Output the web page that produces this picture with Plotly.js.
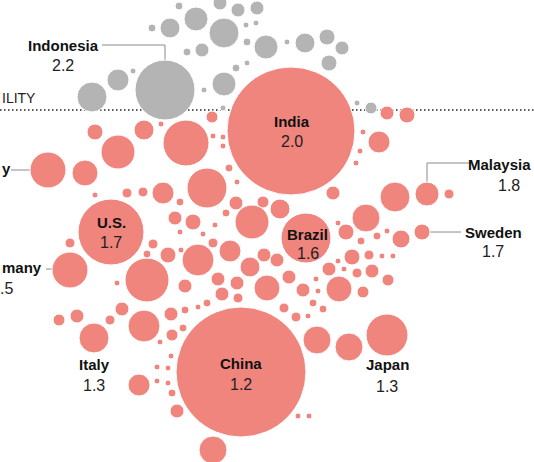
<!DOCTYPE html>
<html>
<head>
<meta charset="utf-8">
<script src="https://cdn.plot.ly/plotly-3.0.1.min.js"></script>
<style>
html,body{margin:0;padding:0;background:#fff;}
#chart{width:534px;height:462px;}
</style>
</head>
<body>
<div id="chart"></div>
<script>
// Countries above replacement fertility (grey bubbles)
const aboveX = [179,220,196,170,152,238,257,224,246,256,187,202,247,266,287,305,327,342,329,236,247,224,204,223,133,118,92,165,357,371];
const aboveY = [6,3,19,28,28,10,8,33,25,23,52,50,42,47,42,43,37,48,63,68,63,84,90,108,71,80,97,90,103,108];
const aboveR = [4,7,12,10,4,7,7,15,3,3,4,7,4,12,3,10,8,7,8,4,3,12,3,3,3,11,15,30,3,6];

// Countries below replacement fertility (pink bubbles)
const belowX = [95,118,144,161,186,212,213,223,223,291,387,407,363,379,360,356,333,395,427,449,366,338,
  48,85,95,127,143,163,180,207,229,237,236,263,280,175,193,226,215,252,180,203,213,111,70,153,168,181,198,230,
  264,277,250,306,346,361,377,387,401,422,352,369,382,393,338,329,344,357,372,388,289,316,303,318,339,363,313,323,
  284,296,308,317,349,387,298,309,267,218,237,185,222,238,207,198,185,171,147,117,70,122,110,77,59,94,144,183,172,
  160,171,157,168,157,168,172,177,139,213,241,147];
const belowY = [132,152,130,124,143,117,136,137,146,131,113,115,132,142,151,163,193,197,194,194,218,223,
  170,173,195,193,192,193,202,188,168,182,203,202,209,218,222,213,225,222,232,234,243,232,243,244,255,250,260,251,
  255,260,267,238,232,241,236,231,239,232,257,255,256,256,261,269,269,273,271,280,277,279,290,291,289,292,303,309,
  308,317,316,340,347,335,416,416,288,279,283,286,294,298,303,307,310,314,280,283,270,309,320,316,320,338,326,328,335,
  342,356,367,368,381,383,393,411,385,450,372,254];
const belowR = [8,17,10,3,23,6,3,3,3,64,7,8,3,11,3,3,7,15,12,5,14,3,
  18,13,3,5,5,11,4,20,4,3,7,6,10,7,8,4,3,17,3,3,5,33,5,5,8,3,16,11,
  7,7,10,25,8,4,4,3,9,8,8,5,3,3,3,7,3,5,7,6,7,3,7,3,13,6,4,4,
  5,5,3,14,14,21,3,3,13,7,7,7,7,5,4,3,4,7,22,3,18,7,5,7,6,15,16,4,6,
  3,3,3,3,3,3,4,7,11,14,65,4];

// Labelled countries and their fertility rates
const labelNames = ["Indonesia","India","Malaysia","Sweden","U.S.","Brazil","many","Italy","China","Japan"];
const labelRates = ["2.2","2.0","1.8","1.7","1.7","1.6",".5","1.3","1.2","1.3"];
const thresholdText = "ILITY";

const pink = "#ef857d";
const grey = "#b4b4b4";

const traces = [
  {type:"scatter", mode:"markers", x:aboveX, y:aboveY, hoverinfo:"skip",
   marker:{size:aboveR.map(r=>2*r), color:grey, opacity:1, line:{color:"#fff", width:1}}},
  {type:"scatter", mode:"markers", x:belowX, y:belowY, hoverinfo:"skip",
   marker:{size:belowR.map(r=>2*r), color:pink, opacity:1, line:{color:"#fff", width:1}}}
];

// label placement (name position, value position, anchor)
const place = [
  {nx:63, ny:45, vx:63, vy:65, a:"center", va:"center"},
  {nx:292, ny:121, vx:292, vy:141, a:"center", va:"center"},
  {nx:533, ny:164, vx:509, vy:185, a:"right", va:"center"},
  {nx:493, ny:232, vx:493, vy:251, a:"center", va:"center"},
  {nx:111, ny:222, vx:111, vy:242, a:"center", va:"center"},
  {nx:307, ny:234, vx:308, vy:253, a:"center", va:"center"},
  {nx:44, ny:267, vx:15, vy:288, a:"right", va:"right"},
  {nx:94, ny:364, vx:94, vy:385, a:"center", va:"center"},
  {nx:241, ny:363, vx:241, vy:384, a:"center", va:"center"},
  {nx:387, ny:364, vx:387, vy:386, a:"center", va:"center"}
];

const annotations = [];
labelNames.forEach((n,i)=>{
  const p = place[i];
  annotations.push({x:p.nx, y:p.ny, xref:"x", yref:"y", text:n, showarrow:false,
    xanchor:p.a, yanchor:"middle",
    font:{family:"Liberation Sans, Arial, sans-serif", size:15, weight:"bold", color:"#111"}});
  annotations.push({x:p.vx, y:p.vy, xref:"x", yref:"y", text:labelRates[i], showarrow:false,
    xanchor:p.va, yanchor:"middle",
    font:{family:"Liberation Sans, Arial, sans-serif", size:16, color:"#222"}});
});
annotations.push({x:0, y:98, xref:"x", yref:"y", text:thresholdText, showarrow:false,
  xanchor:"left", yanchor:"middle",
  font:{family:"Liberation Sans, Arial, sans-serif", size:14, color:"#222"}});
annotations.push({x:0, y:168, xref:"x", yref:"y", text:"y", showarrow:false,
  xanchor:"left", yanchor:"middle",
  font:{family:"Liberation Sans, Arial, sans-serif", size:15, weight:"bold", color:"#111"}});

const lineStyle = {color:"#8a8a8a", width:1};
const shapes = [
  {type:"line", xref:"x", yref:"y", x0:0, x1:534, y0:110, y1:110, layer:"below",
   line:{color:"#222", width:1.5, dash:"1.5px,2.5px"}},
  {type:"path", xref:"x", yref:"y", path:"M102,45 L165,45 L165,61", layer:"below", line:lineStyle},
  {type:"path", xref:"x", yref:"y", path:"M427,183 L427,163 L472,163", layer:"below", line:lineStyle},
  {type:"line", xref:"x", yref:"y", x0:430, x1:461, y0:232, y1:232, layer:"below", line:lineStyle},
  {type:"line", xref:"x", yref:"y", x0:46, x1:53, y0:269, y1:269, layer:"below", line:lineStyle},
  {type:"line", xref:"x", yref:"y", x0:11, x1:31, y0:170, y1:170, layer:"below", line:lineStyle}
];

const layout = {
  width:534, height:462, autosize:false,
  margin:{l:0, r:0, t:0, b:0, pad:0},
  paper_bgcolor:"#fff", plot_bgcolor:"#fff",
  showlegend:false, hovermode:false,
  xaxis:{range:[0,534], visible:false, fixedrange:true},
  yaxis:{range:[462,0], visible:false, fixedrange:true},
  shapes:shapes, annotations:annotations
};

Plotly.newPlot("chart", traces, layout, {staticPlot:true, displayModeBar:false});
</script>
</body>
</html>
